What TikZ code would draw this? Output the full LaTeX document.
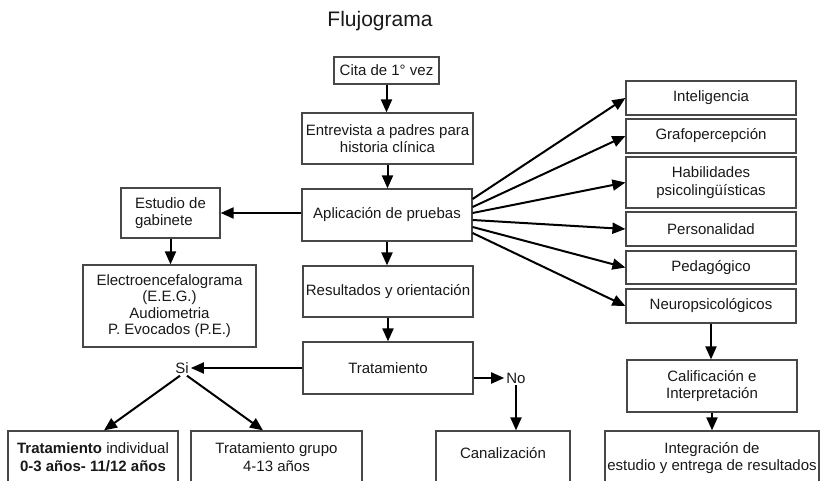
\documentclass[tikz,border=0pt]{standalone}
\usepackage{fontspec}
\setmainfont{Liberation Sans}
\usetikzlibrary{arrows.meta}
\begin{document}
\begin{tikzpicture}[x=1pt,y=-1pt,
  box/.style={draw=black!72, line width=1.2pt, rectangle, inner sep=0pt, align=center,
    text=black!90, font=\fontsize{15}{17.5}\selectfont},
  lbl/.style={inner sep=2pt, text=black!90, font=\fontsize{15}{17.5}\selectfont},
  arr/.style={-{Triangle[length=13pt,width=11pt]}, line width=2pt, black}]
\clip (0,0) rectangle (820,481);
\fill[white] (0,0) rectangle (820,481);
\node[anchor=base, text=black!90, font=\fontsize{21}{25}\selectfont] (title) at (380,27) {Flujograma};

\node[box, minimum width=105pt, minimum height=27pt] (cita) at (386.5,70.5) {Cita de 1° vez};
\node[box, minimum width=171pt, minimum height=51pt] (entre) at (387.5,138.5) {Entrevista a padres para\\historia clínica};
\node[box, minimum width=170pt, minimum height=52pt] (apli) at (387,215) {Aplicación de pruebas};
\node[box, minimum width=99pt, minimum height=50pt, align=left] (gab) at (170.5,213) {Estudio de\\gabinete};
\node[box, minimum width=173pt, minimum height=82pt, font=\fontsize{15}{16.4}\selectfont] (eeg) at (169.5,306) {Electroencefalograma\\(E.E.G.)\\Audiometria\\P. Evocados (P.E.)};
\node[box, minimum width=170pt, minimum height=51pt] (res) at (388,291.5) {Resultados y orientación};
\node[box, minimum width=170pt, minimum height=52pt] (trat) at (388,368) {Tratamiento};
\node[box, minimum width=170pt, minimum height=52pt] (indiv) at (93,457) {\textbf{Tratamiento} individual\\\textbf{0-3 años- 11/12 años}};
\node[box, minimum width=171pt, minimum height=52pt] (grupo) at (276.5,457) {Tratamiento grupo\\4-13 años};
\node[box, minimum width=134pt, minimum height=52pt, text depth=8pt] (canal) at (503,457) {Canalización};
\node[box, minimum width=214pt, minimum height=54pt] (integ) at (712,458) {Integración de\\estudio y entrega de resultados};

\node[box, minimum width=170pt, minimum height=34pt] (intel) at (711,98) {Inteligencia};
\node[box, minimum width=170pt, minimum height=34pt] (grafo) at (711,136) {Grafopercepción};
\node[box, minimum width=170pt, minimum height=51pt] (habil) at (711,182.5) {Habilidades\\psicolingüísticas};
\node[box, minimum width=170pt, minimum height=34pt] (perso) at (711,229) {Personalidad};
\node[box, minimum width=170pt, minimum height=33pt] (pedag) at (711,267.5) {Pedagógico};
\node[box, minimum width=170pt, minimum height=34pt] (neuro) at (711,306) {Neuropsicológicos};
\node[box, minimum width=170pt, minimum height=52pt] (calif) at (712,386) {Calificación e\\Interpretación};

\node[lbl] (si) at (182,368) {Si};
\node[lbl] (no) at (516,378) {No};

\draw[arr] (cita.south) -- (cita.south |- entre.north);
\draw[arr] (entre.south) -- (entre.south |- apli.north);
\draw[arr] (apli.south) -- (apli.south |- res.north);
\draw[arr] (res.south) -- (res.south |- trat.north);
\draw[arr] ([yshift=2pt]apli.west) -- ([yshift=2pt]apli.west -| gab.east);
\draw[arr] (gab.south) -- (gab.south |- eeg.north);

\draw[arr] ([yshift=16pt]apli.east) -- (intel.west);
\draw[arr] ([yshift=8pt]apli.east) -- (grafo.west);
\draw[arr] ([yshift=2pt]apli.east) -- (habil.west);
\draw[arr] ([yshift=-5pt]apli.east) -- (perso.west);
\draw[arr] ([yshift=-12pt]apli.east) -- (pedag.west);
\draw[arr] ([yshift=-18pt]apli.east) -- (neuro.west);

\draw[arr] (neuro.south) -- (neuro.south |- calif.north);
\draw[arr] (calif.south) -- (calif.south |- integ.north);

\draw[arr] (trat.west) -- (si.east);
\draw[arr] ([xshift=-2pt]si.south) -- ([xshift=11pt]indiv.north);
\draw[arr] ([xshift=5pt]si.south) -- ([xshift=-13.5pt]grupo.north);
\draw[arr] (trat.east |- no.west) -- (no.west);
\draw[arr] (no.south) -- (no.south |- canal.north);
\end{tikzpicture}
\end{document}
